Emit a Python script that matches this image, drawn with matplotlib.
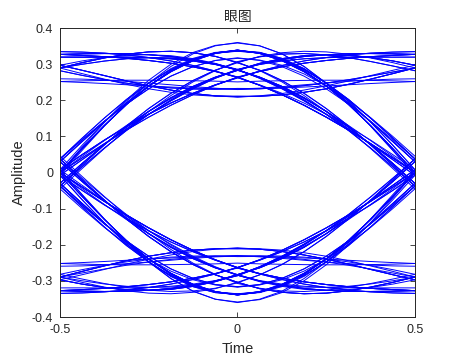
import numpy as np
import matplotlib
matplotlib.use('Agg')
import matplotlib.pyplot as plt

plt.rcParams['font.family'] = ['Liberation Sans', 'Noto Sans CJK SC', 'DejaVu Sans']

# samples per symbol
sps = 16

# one side of the shaping pulse, t = 0 .. 3 symbols in steps of 1/16
pulse_half = [0.2842, 0.2815, 0.2736, 0.2609, 0.2436, 0.2226, 0.1985, 0.1722,
              0.1447, 0.1167, 0.0893, 0.0632, 0.0392, 0.0179, -0.0004, -0.0152,
              -0.0265, -0.0343, -0.0388, -0.0403, -0.0392, -0.0360, -0.0311, -0.0252,
              -0.0188, -0.0122, -0.0061, -0.0006, 0.0039, 0.0073, 0.0095, 0.0106,
              0.0106, 0.0097, 0.0082, 0.0061, 0.0039, 0.0016, -0.0006, -0.0024,
              -0.0038, -0.0046, -0.0049, -0.0047, -0.0041, -0.0031, -0.0019, -0.0006,
              0.0008]

# transmitted bits
bits = [1, 0, 1, 1, 0, 1, 0, 0, 1, 1, 1, 0, 0, 1, 0, 1, 0, 0, 0, 1,
        1, 0, 1, 1, 1, 1, 0, 0, 0, 0, 1, 0, 1, 0, 1, 1, 0, 0, 1, 1,
        0, 1, 0, 0, 1, 0, 0, 1, 1, 1, 0, 1, 0, 1, 1, 1, 1, 1, 0, 0,
        1, 0, 0, 0, 0, 0, 1, 1, 0, 1, 1, 0, 0, 0, 1, 1, 1, 0, 1, 0,
        0, 1, 1, 0, 0, 1, 0, 1, 1, 0, 1, 0, 0, 0, 1, 1, 0, 0, 1, 0,
        1, 1, 1, 0, 1, 1, 0, 1, 0, 0, 0, 1, 0, 1, 1, 0, 0, 1, 1, 0]

title_text = '眼图'
x_label = 'Time'
y_label = 'Amplitude'
x_ticks = [-0.5, 0, 0.5]
x_ticklabels = ['-0.5', '0', '0.5']
y_ticks = [-0.4, -0.3, -0.2, -0.1, 0, 0.1, 0.2, 0.3, 0.4]
y_ticklabels = ['-0.4', '-0.3', '-0.2', '-0.1', '0', '0.1', '0.2', '0.3', '0.4']

# build the waveform
pulse = np.r_[pulse_half[:0:-1], pulse_half]
syms = 2 * np.array(bits) - 1
up = np.zeros(len(syms) * sps)
up[::sps] = syms
wave = np.convolve(up, pulse)
half = len(pulse_half) - 1
span = half // sps
t = np.arange(-sps // 2, sps // 2 + 1) / sps

fig = plt.figure(figsize=(4.6, 3.6), dpi=100)
ax = fig.add_axes([0.1304, 0.1194, 0.7717, 0.8028])

for n in range(span, len(syms) - span):
    c = n * sps + half
    ax.plot(t, wave[c - sps // 2:c + sps // 2 + 1], color=(0, 0, 1), lw=0.7)

ax.set_xlim(-0.5, 0.5)
ax.set_ylim(-0.4, 0.4)
ax.set_xticks(x_ticks)
ax.set_xticklabels(x_ticklabels)
ax.set_yticks(y_ticks)
ax.set_yticklabels(y_ticklabels)

dark = '#262626'
ax.tick_params(direction='in', top=True, right=True, length=3.5, width=0.6,
               colors=dark, labelsize=9, pad=5)
for s in ax.spines.values():
    s.set_linewidth(0.7)
    s.set_color(dark)

ax.set_title(title_text, fontsize=10, color=dark, pad=5,
             family=['Noto Sans CJK SC', 'DejaVu Sans'])
ax.set_xlabel(x_label, fontsize=10.5, color=dark, labelpad=4)
ax.set_ylabel(y_label, fontsize=10.5, color=dark, labelpad=4)

plt.savefig('out.png', dpi=100)
